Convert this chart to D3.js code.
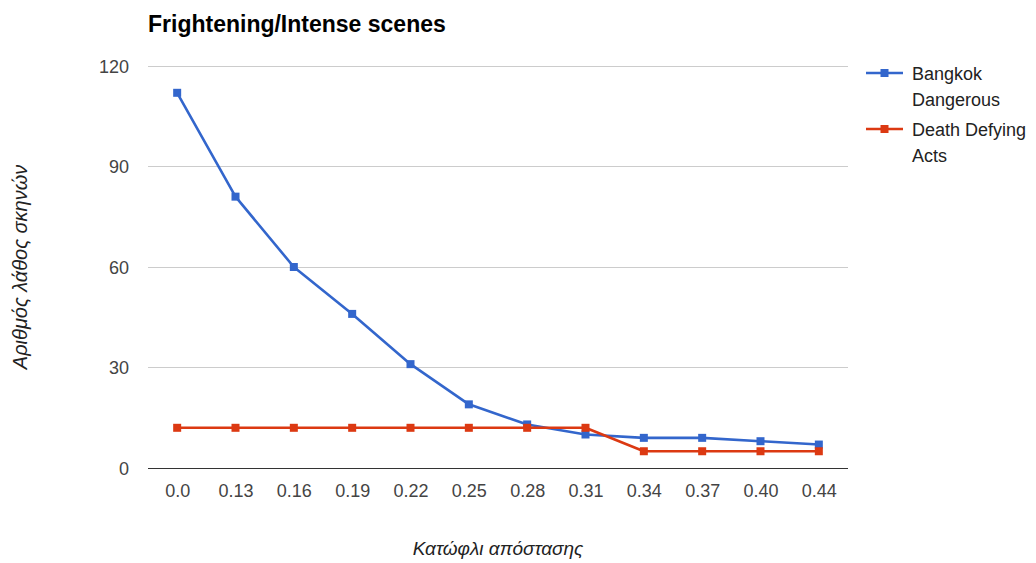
<!DOCTYPE html>
<html>
<head>
<meta charset="utf-8">
<script src="https://cdn.jsdelivr.net/npm/d3@7"></script>
<style>
  html, body { margin: 0; padding: 0; background: #fff; }
  svg { display: block; font-family: "Liberation Sans", Arial, sans-serif; }
</style>
</head>
<body>
<svg id="chart" width="1036" height="563"></svg>
<script>
// Distance thresholds (x categories)
const thresholds = ["0.0", "0.13", "0.16", "0.19", "0.22", "0.25", "0.28", "0.31", "0.34", "0.37", "0.40", "0.44"];
// Wrong-scene counts per film
const bangkokDangerous = [112, 81, 60, 46, 31, 19, 13, 10, 9, 9, 8, 7];
const deathDefyingActs = [12, 12, 12, 12, 12, 12, 12, 12, 5, 5, 5, 5];
const yTicks = [0, 30, 60, 90, 120];

const seriesList = [
  { name: ["Bangkok", "Dangerous"], values: bangkokDangerous, color: "#3366cc" },
  { name: ["Death Defying", "Acts"], values: deathDefyingActs, color: "#dc3912" }
];

const svg = d3.select("#chart");
const plot = { left: 148, right: 848, top: 66, bottom: 468 };
const fontStack = "\"Liberation Sans\", Arial, sans-serif";

const x = d3.scalePoint()
  .domain(thresholds)
  .range([plot.left, plot.right])
  .padding(0.5);

const y = d3.scaleLinear()
  .domain([0, 120])
  .range([plot.bottom, plot.top]);

// Title
svg.append("text")
  .attr("x", 148).attr("y", 32)
  .attr("font-size", 23).attr("font-weight", "bold")
  .attr("fill", "#000")
  .text("Frightening/Intense scenes");

// Horizontal gridlines
svg.append("g")
  .selectAll("line")
  .data(yTicks.filter(d => d !== 0))
  .join("line")
  .attr("x1", plot.left).attr("x2", plot.right)
  .attr("y1", d => y(d)).attr("y2", d => y(d))
  .attr("stroke", "#cccccc").attr("stroke-width", 1)
  .attr("shape-rendering", "crispEdges");

// Y axis labels
const yAxis = d3.axisLeft(y).tickValues(yTicks).tickSize(0).tickPadding(0);
const yG = svg.append("g")
  .attr("transform", `translate(${plot.left - 19},0)`)
  .call(yAxis);
yG.select(".domain").remove();
yG.selectAll("text")
  .attr("font-size", 18).attr("fill", "#444")
  .attr("font-family", fontStack)
  .attr("dy", "0.35em");

// X axis labels
const xAxis = d3.axisBottom(x).tickSize(0).tickPadding(0);
const xG = svg.append("g")
  .attr("transform", `translate(0,${plot.bottom + 16})`)
  .call(xAxis);
xG.select(".domain").remove();
xG.selectAll("text")
  .attr("font-size", 18).attr("fill", "#444")
  .attr("font-family", fontStack)
  .attr("dy", "0.71em");

// Baseline
svg.append("line")
  .attr("x1", plot.left).attr("x2", plot.right)
  .attr("y1", y(0)).attr("y2", y(0))
  .attr("stroke", "#333").attr("stroke-width", 1)
  .attr("shape-rendering", "crispEdges");

// Axis titles
svg.append("text")
  .attr("transform", `translate(27,${(plot.top + plot.bottom) / 2}) rotate(-90)`)
  .attr("text-anchor", "middle")
  .attr("font-size", 20).attr("font-style", "italic").attr("fill", "#222")
  .text("Αριθμός λάθος σκηνών");

svg.append("text")
  .attr("x", (plot.left + plot.right) / 2).attr("y", 555)
  .attr("text-anchor", "middle")
  .attr("font-size", 19).attr("font-style", "italic").attr("fill", "#222")
  .text("Κατώφλι απόστασης");

// Series lines and markers
const line = d3.line()
  .x((d, i) => x(thresholds[i]))
  .y(d => y(d));

seriesList.forEach(s => {
  const g = svg.append("g");
  g.append("path")
    .datum(s.values)
    .attr("d", line)
    .attr("fill", "none")
    .attr("stroke", s.color)
    .attr("stroke-width", 2.6)
    .attr("stroke-linejoin", "round");
  g.selectAll("rect")
    .data(s.values)
    .join("rect")
    .attr("x", (d, i) => x(thresholds[i]) - 4)
    .attr("y", d => y(d) - 4)
    .attr("width", 8).attr("height", 8)
    .attr("fill", s.color);
});

// Legend
const legend = svg.append("g");
seriesList.forEach((s, i) => {
  const cy = 73 + i * 56;
  legend.append("line")
    .attr("x1", 866).attr("x2", 903)
    .attr("y1", cy).attr("y2", cy)
    .attr("stroke", s.color).attr("stroke-width", 2.6);
  legend.append("rect")
    .attr("x", 880.5).attr("y", cy - 4)
    .attr("width", 8).attr("height", 8)
    .attr("fill", s.color);
  s.name.forEach((t, j) => {
    legend.append("text")
      .attr("x", 912).attr("y", cy + 7 + j * 26)
      .attr("font-size", 18).attr("fill", "#222")
      .attr("font-family", fontStack)
      .text(t);
  });
});
</script>
</body>
</html>
